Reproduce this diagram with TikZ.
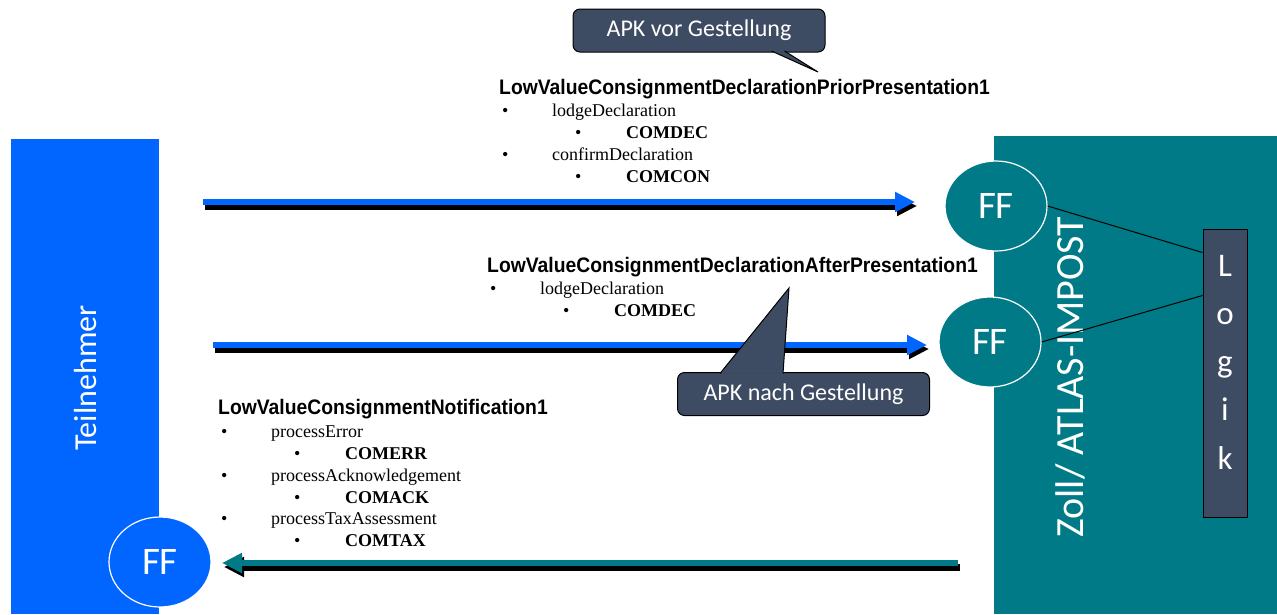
\documentclass[tikz,border=0pt]{standalone}
\usepackage{fontspec}
\setmainfont{Carlito}
\newfontfamily\titlefont[FakeStretch=0.92]{Liberation Sans}
\newfontfamily\listfont{Liberation Serif}
\usetikzlibrary{shapes.geometric, arrows.meta, calc}
\definecolor{partBlue} {HTML}{0066FF}
\definecolor{zollTeal} {HTML}{007A87}
\definecolor{noteSlate}{HTML}{3E4C63}
\tikzset{
  panel/.style    = {rectangle, draw=none, anchor=north west, inner sep=0pt},
  ffnode/.style   = {ellipse, draw=white, line width=1.2pt, minimum width=102pt,
                     minimum height=90pt, inner sep=0pt, text=white,
                     font=\fontsize{39}{42}\selectfont},
  sidelabel/.style= {rotate=90, text=white, inner sep=0pt},
  note/.style     = {rectangle, rounded corners=7pt, draw=black, line width=1pt,
                     fill=noteSlate, text=white, minimum width=252pt,
                     minimum height=43pt, inner sep=0pt,
                     font=\fontsize{24}{28}\selectfont},
  pointer/.style  = {fill=noteSlate, draw=black, line width=1pt},
  msgtitle/.style = {anchor=base west, inner sep=0pt,
                     font=\titlefont\bfseries\fontsize{21}{25}\selectfont},
  item/.style     = {anchor=base west, inner sep=0pt,
                     font=\listfont\fontsize{18}{22}\selectfont},
  msg/.style      = {line width=6pt, -{Triangle[length=20pt, width=19pt]}},
  msgshadow/.style= {msg, black, line width=7pt,
                     transform canvas={shift={(2pt,-4pt)}}},
}

\begin{document}
\begin{tikzpicture}[x=1pt, y=-1pt]
  \useasboundingbox (0,0) rectangle (1277,614);

  % ---- side panels ----
  \node[panel, fill=partBlue, minimum width=148pt, minimum height=475pt]
        (teiln) at (11,139) {};
  \node[sidelabel, font=\fontsize{32}{36}\selectfont] (teilnlbl) at (85,378) {Teilnehmer};
  \node[panel, fill=zollTeal, minimum width=283pt, minimum height=478pt]
        (zoll) at (994,136) {};
  \node[sidelabel, font=\fontsize{40}{44}\selectfont] (zolllbl) at (1070,377) {Zoll/ ATLAS-IMPOST};

  % ---- FF end points ----
  \node[ffnode, fill=zollTeal] (ff1) at (996,206) {FF};
  \node[ffnode, fill=zollTeal] (ff2) at (990,342) {FF};
  \node[ffnode, fill=partBlue] (ff3) at (160,562) {FF};

  % ---- Logik ----
  \node[rectangle, draw=black, line width=1pt, fill=noteSlate, minimum width=44pt,
        minimum height=288pt, inner sep=0pt] (logik) at (1225,373) {};
  \node[text=white, align=center, inner sep=0pt, font=\fontsize{33}{48.25}\selectfont]
        (logiktxt) at (1225,362) {L\\o\\g\\i\\k};
  \draw[line width=1pt] (ff1.east) -- ($(logik.north west)+(0,24)$);
  \draw[line width=1pt] (ff2.east) -- ($(logik.north west)+(0,67)$);

  % ---- message 1 ----
  \node[msgtitle] (prior) at (499,94) {LowValueConsignmentDeclarationPriorPresentation1};
  \node[item] (prior1) at (502,116) {\makebox[50pt][l]{\textbullet}lodgeDeclaration};
  \node[item] (prior2) at (575,138) {\makebox[51pt][l]{\textbullet}\textbf{COMDEC}};
  \node[item] (prior3) at (502,160) {\makebox[50pt][l]{\textbullet}confirmDeclaration};
  \node[item] (prior4) at (575,182) {\makebox[51pt][l]{\textbullet}\textbf{COMCON}};

  % ---- message 2 ----
  \node[msgtitle] (after) at (487,272) {LowValueConsignmentDeclarationAfterPresentation1};
  \node[item] (after1) at (490,294) {\makebox[50pt][l]{\textbullet}lodgeDeclaration};
  \node[item] (after2) at (563,316) {\makebox[51pt][l]{\textbullet}\textbf{COMDEC}};

  % ---- message 3 ----
  \node[msgtitle] (notif) at (218,414) {LowValueConsignmentNotification1};
  \node[item] (notif1) at (221,437) {\makebox[50pt][l]{\textbullet}processError};
  \node[item] (notif2) at (294,459) {\makebox[51pt][l]{\textbullet}\textbf{COMERR}};
  \node[item] (notif3) at (221,481) {\makebox[50pt][l]{\textbullet}processAcknowledgement};
  \node[item] (notif4) at (294,503) {\makebox[51pt][l]{\textbullet}\textbf{COMACK}};
  \node[item] (notif5) at (221,524) {\makebox[50pt][l]{\textbullet}processTaxAssessment};
  \node[item] (notif6) at (294,546) {\makebox[51pt][l]{\textbullet}\textbf{COMTAX}};

  % ---- message arrows ----
  \coordinate (m1s) at (203,202);  \coordinate (m1e) at (915,202);
  \coordinate (m2s) at (213,345);  \coordinate (m2e) at (927,345);
  \coordinate (m3s) at (958,563);  \coordinate (m3e) at (222,563);
  \draw[msgshadow] (m1s) -- (m1e);
  \draw[msg, partBlue] (m1s) -- (m1e);
  \draw[msgshadow] (m2s) -- (m2e);
  \draw[msg, partBlue] (m2s) -- (m2e);
  \draw[msgshadow] (m3s) -- (m3e);
  \draw[msg, zollTeal] (m3s) -- (m3e);

  % ---- callouts ----
  \node[note] (apk1) at (699,30.5) {APK vor Gestellung};
  \coordinate (apk1tip) at (818,72);
  \filldraw[pointer] ($(apk1.south west)+(199,-1.5)$) -- (apk1tip)
                     -- ($(apk1.south west)+(212,-1.5)$);

  \node[note] (apk2) at (803.5,394) {APK nach Gestellung};
  \coordinate (apk2tip) at (789,288);
  \filldraw[pointer] ($(apk2.north west)+(43,1.5)$) -- (apk2tip)
                     -- ($(apk2.north west)+(106,1.5)$);
\end{tikzpicture}
\end{document}
